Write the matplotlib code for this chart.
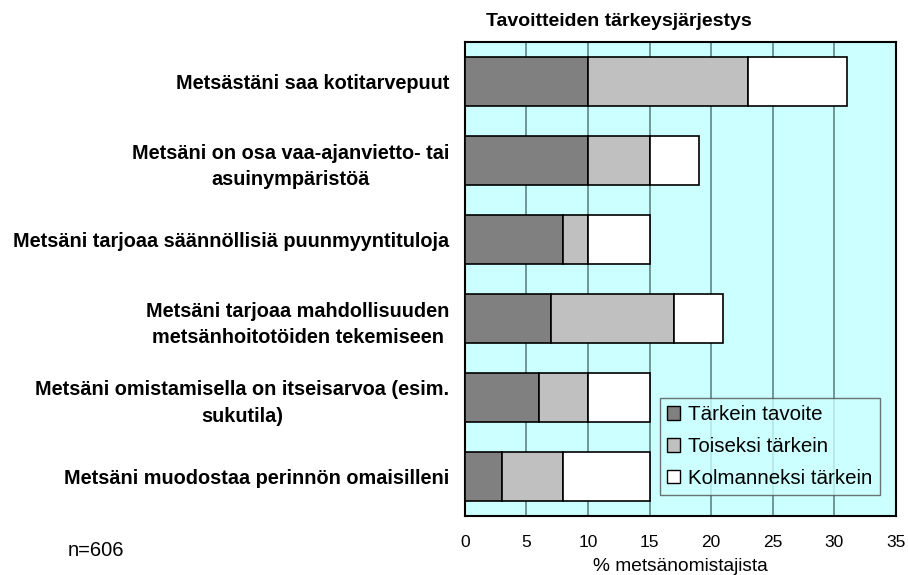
import numpy as np
import matplotlib
matplotlib.use("Agg")
import matplotlib.pyplot as plt
from matplotlib.patches import Patch

plt.rcParams['font.family'] = ['Liberation Sans', 'DejaVu Sans']

# tavoitteet (ylhäältä alas)
categories = [
    "Metsästäni saa kotitarvepuut",
    "Metsäni on osa vaa-ajanvietto- tai\nasuinympäristöä",
    "Metsäni tarjoaa säännöllisiä puunmyyntituloja",
    "Metsäni tarjoaa mahdollisuuden\nmetsänhoitotöiden tekemiseen",
    "Metsäni omistamisella on itseisarvoa (esim.\nsukutila)",
    "Metsäni muodostaa perinnön omaisilleni",
]
series_names = ["Tärkein tavoite", "Toiseksi tärkein", "Kolmanneksi tärkein"]
tarkein = [10, 10, 8, 7, 6, 3]
toiseksi = [13, 5, 2, 10, 4, 5]
kolmanneksi = [8, 4, 5, 4, 5, 7]
xticks = [0, 5, 10, 15, 20, 25, 30, 35]

colors = ["#808080", "#C0C0C0", "#FFFFFF"]

fig = plt.figure(figsize=(9.08, 5.75), dpi=100)
ax = fig.add_axes([0.5118, 0.1031, 0.475, 0.823])
ax.set_facecolor("#CCFFFF")

y = np.arange(len(categories))
left = np.zeros(len(categories))
for vals, col, name in zip([tarkein, toiseksi, kolmanneksi], colors, series_names):
    ax.barh(y, vals, left=left, height=0.62, color=col, edgecolor="black",
            linewidth=1.2, label=name, zorder=3)
    left = left + np.array(vals)

ax.set_xlim(0, 35)
ax.set_ylim(len(categories) - 0.5, -0.5)
ax.set_xticks(xticks)
ax.set_xticklabels([str(t) for t in xticks], fontsize=12.5)
ax.tick_params(axis="x", length=0, pad=14)
ax.set_yticks(y)
ax.set_yticklabels(categories, fontsize=14.3, fontweight="bold",
                   multialignment="center", linespacing=1.5)
ax.tick_params(axis="y", length=0, pad=11)
ax.xaxis.grid(True, color="#5F8585", linewidth=1.2, zorder=1)
ax.set_axisbelow(True)
for s in ax.spines.values():
    s.set_linewidth(1.5)
    s.set_color("black")

ax.set_xlabel("% metsänomistajista", fontsize=13.8, labelpad=6)

fig.text(0.682, 0.963, "Tavoitteiden tärkeysjärjestys", fontsize=14,
         fontweight="bold", ha="center", va="center")
fig.text(0.075, 0.043, "n=606", fontsize=14.5, ha="left", va="center")

handles = [Patch(facecolor=c, edgecolor="black", linewidth=1) for c in colors]
leg = ax.legend(handles, series_names, loc="lower right", bbox_to_anchor=(0.963, 0.044),
                fontsize=14.8, frameon=True, fancybox=False, handlelength=0.65,
                handleheight=0.65, handletextpad=0.4, labelspacing=0.62,
                borderpad=0.35, borderaxespad=0)
leg.get_frame().set_facecolor("#CCFFFF")
leg.get_frame().set_edgecolor("#505050")
leg.get_frame().set_linewidth(1)
leg.set_zorder(5)

fig.savefig("out.png", dpi=100)
